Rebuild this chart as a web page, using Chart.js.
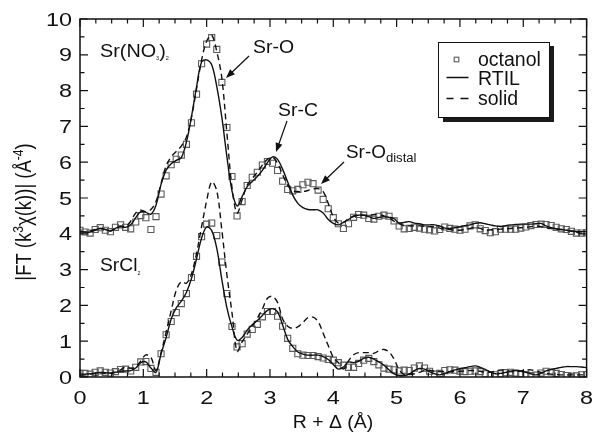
<!DOCTYPE html>
<html>
<head>
<meta charset="utf-8">
<script src="https://cdn.jsdelivr.net/npm/chart.js@4.4.7/dist/chart.umd.min.js"></script>
<style>
  html, body { margin: 0; padding: 0; background: #fff; }
  #wrap { width: 592px; height: 440px; }
</style>
</head>
<body>
<div id="wrap"><canvas id="chart" width="592" height="440"></canvas></div>
<script>
// R + delta grid (Å), shared by every series
const R = [
  0, 0.08, 0.16, 0.24, 0.32, 0.4, 0.48, 0.56, 0.64, 0.72,
  0.8, 0.88, 0.96, 1.04, 1.12, 1.2, 1.28, 1.36, 1.44, 1.52,
  1.6, 1.68, 1.76, 1.84, 1.92, 2.0, 2.08, 2.16, 2.24, 2.32,
  2.4, 2.48, 2.56, 2.64, 2.72, 2.8, 2.88, 2.96, 3.04, 3.12,
  3.2, 3.28, 3.36, 3.44, 3.52, 3.6, 3.68, 3.76, 3.84, 3.92,
  4.0, 4.08, 4.16, 4.24, 4.32, 4.4, 4.48, 4.56, 4.64, 4.72,
  4.8, 4.88, 4.96, 5.04, 5.12, 5.2, 5.28, 5.36, 5.44, 5.52,
  5.6, 5.68, 5.76, 5.84, 5.92, 6.0, 6.08, 6.16, 6.24, 6.32,
  6.4, 6.48, 6.56, 6.64, 6.72, 6.8, 6.88, 6.96, 7.04, 7.12,
  7.2, 7.28, 7.36, 7.44, 7.52, 7.6, 7.68, 7.76, 7.84, 7.92,
  8.0
];

// Sr(NO3)2 set (offset by +4)
const OCT_NO3 = [
  4.10, 4.05, 4.02, 4.12, 4.17, 4.10, 4.06, 4.18, 4.25, 4.18,
  4.14, 4.33, 4.51, 4.45, 4.12, 4.48, 5.11, 5.62, 5.93, 6.08,
  6.20, 6.50, 7.10, 7.90, 8.75, 9.30, 9.48, 9.15, 8.23, 6.97,
  5.60, 4.50, 4.90, 5.35, 5.58, 5.72, 5.92, 6.02, 5.97, 5.77,
  5.47, 5.24, 5.20, 5.24, 5.37, 5.44, 5.40, 5.22, 4.96, 4.70,
  4.45, 4.28, 4.15, 4.28, 4.46, 4.54, 4.52, 4.43, 4.41, 4.49,
  4.52, 4.49, 4.36, 4.22, 4.14, 4.15, 4.18, 4.16, 4.13, 4.11,
  4.08, 4.12, 4.19, 4.15, 4.13, 4.10, 4.13, 4.22, 4.25, 4.14,
  4.09, 4.03, 4.06, 4.13, 4.13, 4.13, 4.13, 4.16, 4.19, 4.23,
  4.26, 4.27, 4.26, 4.23, 4.18, 4.14, 4.12, 4.07, 4.02, 4.02,
  4.03
];
const RTIL_NO3 = [
  4.08, 4.05, 4.05, 4.10, 4.15, 4.12, 4.08, 4.15, 4.20, 4.18,
  4.25, 4.45, 4.62, 4.60, 4.55, 4.80, 5.38, 5.78, 5.96, 6.05,
  6.13, 6.56, 7.27, 8.10, 8.80, 8.86, 8.72, 8.11, 7.25, 6.15,
  5.20, 4.78, 5.04, 5.32, 5.46, 5.60, 5.77, 5.99, 6.15, 6.08,
  5.80, 5.45, 5.08, 4.85, 4.73, 4.68, 4.67, 4.67, 4.58, 4.40,
  4.29, 4.25, 4.32, 4.40, 4.50, 4.52, 4.52, 4.48, 4.43, 4.46,
  4.48, 4.46, 4.42, 4.30, 4.32, 4.34, 4.30, 4.28, 4.25, 4.25,
  4.25, 4.22, 4.16, 4.15, 4.17, 4.20, 4.23, 4.25, 4.29, 4.31,
  4.28, 4.25, 4.22, 4.20, 4.23, 4.25, 4.26, 4.27, 4.27, 4.27,
  4.28, 4.29, 4.22, 4.17, 4.14, 4.12, 4.10, 4.08, 4.06, 4.06,
  4.06
];
const SOLID_NO3 = [
  4.05, 4.05, 4.08, 4.12, 4.15, 4.12, 4.08, 4.15, 4.22, 4.20,
  4.35, 4.58, 4.66, 4.62, 4.68, 4.90, 5.40, 5.90, 6.15, 6.30,
  6.45, 6.70, 7.25, 8.05, 8.85, 9.38, 9.55, 9.09, 8.35, 6.81,
  5.30, 4.58, 4.95, 5.36, 5.55, 5.72, 5.92, 6.08, 6.14, 5.97,
  5.65, 5.35, 5.20, 5.18, 5.18, 5.21, 5.25, 5.26, 5.18, 4.85,
  4.48, 4.30, 4.32, 4.42, 4.48, 4.52, 4.52, 4.52, 4.54, 4.54,
  4.50, 4.45, 4.35, 4.28, 4.23, 4.22, 4.22, 4.22, 4.21, 4.20,
  4.19, 4.16, 4.13, 4.12, 4.10, 4.10, 4.12, 4.15, 4.18, 4.15,
  4.10, 4.11, 4.12, 4.13, 4.14, 4.15, 4.16, 4.17, 4.18, 4.20,
  4.22, 4.20, 4.17, 4.15, 4.13, 4.12, 4.10, 4.07, 4.04, 4.02,
  4.01
];

// SrCl2 set
const OCT_CL = [
  0.10, 0.10, 0.08, 0.13, 0.17, 0.13, 0.11, 0.15, 0.21, 0.22,
  0.17, 0.27, 0.42, 0.43, 0.24, 0.13, 0.65, 1.18, 1.55, 1.80,
  2.05, 2.33, 2.78, 3.37, 3.92, 4.27, 4.30, 3.95, 3.21, 2.33,
  1.41, 0.84, 0.93, 1.20, 1.33, 1.47, 1.68, 1.83, 1.83, 1.70,
  1.42, 1.08, 0.80, 0.65, 0.61, 0.60, 0.60, 0.57, 0.53, 0.49,
  0.47, 0.40, 0.33, 0.27, 0.27, 0.38, 0.47, 0.52, 0.43, 0.34,
  0.25, 0.22, 0.20, 0.17, 0.19, 0.18, 0.25, 0.31, 0.25, 0.16,
  0.08, 0.10, 0.18, 0.20, 0.19, 0.16, 0.15, 0.16, 0.17, 0.15,
  0.09, 0.04, 0.06, 0.09, 0.12, 0.13, 0.11, 0.09, 0.07, 0.04,
  0.05, 0.11, 0.16, 0.14, 0.10, 0.07, 0.04, 0.02, 0.03, 0.06,
  0.07
];
const RTIL_CL = [
  0.08, 0.08, 0.09, 0.11, 0.13, 0.12, 0.11, 0.13, 0.16, 0.17,
  0.18, 0.25, 0.40, 0.42, 0.25, 0.13, 0.65, 1.10, 1.62, 1.93,
  2.12, 2.36, 2.75, 3.30, 3.88, 4.19, 4.09, 3.59, 2.72, 1.93,
  1.40, 1.03, 1.10, 1.31, 1.46, 1.58, 1.72, 1.86, 1.91, 1.82,
  1.45, 1.05, 0.85, 0.70, 0.64, 0.61, 0.61, 0.61, 0.57, 0.49,
  0.35, 0.22, 0.28, 0.42, 0.40, 0.44, 0.52, 0.55, 0.50, 0.42,
  0.33, 0.20, 0.09, 0.04, 0.04, 0.08, 0.18, 0.24, 0.22, 0.15,
  0.09, 0.06, 0.10, 0.15, 0.20, 0.23, 0.26, 0.29, 0.31, 0.27,
  0.21, 0.14, 0.09, 0.10, 0.13, 0.16, 0.18, 0.16, 0.13, 0.09,
  0.06, 0.10, 0.17, 0.21, 0.24, 0.27, 0.29, 0.29, 0.29, 0.28,
  0.26
];
const SOLID_CL = [
  0.05, 0.06, 0.08, 0.10, 0.12, 0.10, 0.10, 0.14, 0.20, 0.28,
  0.24, 0.28, 0.45, 0.62, 0.55, 0.18, 0.68, 1.25, 1.85, 2.42,
  2.66, 2.62, 2.88, 3.45, 4.20, 4.92, 5.45, 5.20, 4.10, 2.85,
  1.80, 0.72, 0.98, 1.20, 1.41, 1.64, 1.90, 2.20, 2.25, 2.08,
  1.62, 1.42, 1.36, 1.40, 1.52, 1.66, 1.67, 1.55, 1.22, 0.88,
  0.55, 0.40, 0.22, 0.45, 0.62, 0.68, 0.68, 0.68, 0.66, 0.73,
  0.77, 0.70, 0.50, 0.20, 0.07, 0.07, 0.09, 0.13, 0.18, 0.19,
  0.16, 0.15, 0.15, 0.15, 0.15, 0.16, 0.17, 0.18, 0.18, 0.16,
  0.13, 0.14, 0.17, 0.20, 0.18, 0.15, 0.15, 0.17, 0.19, 0.20,
  0.17, 0.13, 0.10, 0.08, 0.07, 0.06, 0.06, 0.06, 0.06, 0.06,
  0.06
];

const X_TICKS = [0, 1, 2, 3, 4, 5, 6, 7, 8];
const Y_TICKS = [0, 1, 2, 3, 4, 5, 6, 7, 8, 9, 10];

const FONT = '"Liberation Sans", Arial, Helvetica, sans-serif';
const INK = '#111';

function pts(ys) {
  return R.map((r, i) => ({ x: r, y: ys[i] }));
}

function lineSet(label, ys, dashed) {
  return {
    label,
    data: pts(ys),
    showLine: true,
    borderColor: INK,
    borderWidth: 1.4,
    borderDash: dashed ? [6, 4] : [],
    pointRadius: 0,
    tension: 0.35,
    fill: false,
  };
}

function squareSet(label, ys) {
  return {
    label,
    data: pts(ys),
    showLine: false,
    pointStyle: 'rect',
    pointRadius: 4.3,
    pointBorderWidth: 1.1,
    pointBorderColor: '#5a5a5a',
    pointBackgroundColor: 'rgba(255,255,255,0)',
    borderColor: '#5a5a5a',
    backgroundColor: 'rgba(255,255,255,0)',
  };
}

// draw text with a horizontal stretch factor
function txt(ctx, s, x, y, size, sx, align) {
  ctx.save();
  ctx.font = size + 'px ' + FONT;
  ctx.fillStyle = INK;
  ctx.textBaseline = 'alphabetic';
  ctx.textAlign = align || 'left';
  ctx.translate(x, y);
  ctx.scale(sx, 1);
  ctx.fillText(s, 0, 0);
  ctx.restore();
}

// run of pieces [text, size, dy]; returns end x
function rich(ctx, parts, x, y, sx) {
  let cx = x;
  for (const [s, size, dy] of parts) {
    ctx.save();
    ctx.font = size + 'px ' + FONT;
    ctx.fillStyle = INK;
    ctx.textBaseline = 'alphabetic';
    ctx.translate(cx, y + (dy || 0));
    ctx.scale(sx, 1);
    ctx.fillText(s, 0, 0);
    cx += ctx.measureText(s).width * sx;
    ctx.restore();
  }
  return cx;
}

function arrow(ctx, x1, y1, x2, y2) {
  const a = Math.atan2(y2 - y1, x2 - x1);
  const L = 9, W = 3.5;
  ctx.save();
  ctx.strokeStyle = INK;
  ctx.fillStyle = INK;
  ctx.lineWidth = 1.2;
  ctx.beginPath();
  ctx.moveTo(x1, y1);
  ctx.lineTo(x2 - Math.cos(a) * L * 0.8, y2 - Math.sin(a) * L * 0.8);
  ctx.stroke();
  ctx.beginPath();
  ctx.moveTo(x2, y2);
  ctx.lineTo(x2 - Math.cos(a) * L - Math.sin(a) * W, y2 - Math.sin(a) * L + Math.cos(a) * W);
  ctx.lineTo(x2 - Math.cos(a) * L + Math.sin(a) * W, y2 - Math.sin(a) * L - Math.cos(a) * W);
  ctx.closePath();
  ctx.fill();
  ctx.restore();
}

const decor = {
  id: 'decor',
  afterDraw(chart) {
    const { ctx, chartArea: ca, scales } = chart;
    const xs = scales.x, ys = scales.y;

    // frame
    ctx.save();
    ctx.strokeStyle = INK;
    ctx.lineWidth = 1.5;
    ctx.strokeRect(ca.left, ca.top, ca.right - ca.left, ca.bottom - ca.top);

    // inward ticks, major + minor
    ctx.lineWidth = 1.2;
    ctx.beginPath();
    for (let k = 0; k <= 32; k++) {
      const px = xs.getPixelForValue(k / 4);
      const len = k % 4 === 0 ? 8 : 4.5;
      ctx.moveTo(px, ca.bottom); ctx.lineTo(px, ca.bottom - len);
      ctx.moveTo(px, ca.top); ctx.lineTo(px, ca.top + len);
    }
    for (let k = 0; k <= 20; k++) {
      const py = ys.getPixelForValue(k / 2);
      const len = k % 2 === 0 ? 8 : 4.5;
      ctx.moveTo(ca.left, py); ctx.lineTo(ca.left + len, py);
      ctx.moveTo(ca.right, py); ctx.lineTo(ca.right - len, py);
    }
    ctx.stroke();
    ctx.restore();

    // tick labels
    X_TICKS.forEach(v => txt(ctx, String(v), xs.getPixelForValue(v), ca.bottom + 27, 18, 1.3, 'center'));
    Y_TICKS.forEach(v => txt(ctx, String(v), 72, ys.getPixelForValue(v) + 6.5, 18, 1.3, 'right'));

    // axis titles
    txt(ctx, 'R + \u0394 (\u00C5)', 333, 428, 18, 1.08, 'center');

    ctx.save();
    ctx.translate(31, 212);
    ctx.rotate(-Math.PI / 2);
    ctx.scale(1, 1.2);
    const yParts = [
      ['|FT (k', 18.5, 0], ['3', 12, -7], ['\u03C7(k))| (\u00C5', 18.5, 0], ['-4', 12, -7], [')', 18.5, 0]
    ];
    let w = 0;
    for (const [s, size] of yParts) { ctx.font = size + 'px ' + FONT; w += ctx.measureText(s).width; }
    rich(ctx, yParts, -w / 2, 0, 1);
    ctx.restore();

    // sample labels
    rich(ctx, [['Sr(NO', 18, 0], ['3', 5, 3], [')', 18, 0], ['2', 5, 3]], 100, 57, 1.1);
    rich(ctx, [['SrCl', 18, 0], ['2', 5, 4]], 100, 271, 1.07);

    // peak annotations
    txt(ctx, 'Sr-O', 253, 53, 18, 1.08);
    arrow(ctx, 249, 56, 226, 78);
    txt(ctx, 'Sr-C', 278, 116, 18, 1.08);
    arrow(ctx, 287, 121, 276, 152);
    rich(ctx, [['Sr-O', 18, 0], ['distal', 12.5, 4]], 346, 158, 1.05);
    arrow(ctx, 344, 162, 321, 184);

    // legend box with drop shadow
    ctx.save();
    ctx.fillStyle = '#1a1a1a';
    ctx.fillRect(443, 46, 111, 76);
    ctx.fillStyle = '#fff';
    ctx.fillRect(438, 42, 111, 75);
    ctx.strokeStyle = INK;
    ctx.lineWidth = 1;
    ctx.strokeRect(438.5, 42.5, 111, 75);
    ctx.strokeStyle = '#5a5a5a';
    ctx.lineWidth = 1.1;
    ctx.strokeRect(454.2, 57.2, 4.6, 4.6);
    ctx.strokeStyle = INK;
    ctx.lineWidth = 1.4;
    ctx.beginPath();
    ctx.moveTo(446.5, 77.5); ctx.lineTo(468.5, 77.5);
    ctx.moveTo(446.5, 98.5); ctx.lineTo(453.5, 98.5);
    ctx.moveTo(460.5, 98.5); ctx.lineTo(468.5, 98.5);
    ctx.stroke();
    ctx.restore();
    txt(ctx, 'octanol', 478, 66, 19.5, 1.0);
    txt(ctx, 'RTIL', 478, 85, 19.5, 1.0);
    txt(ctx, 'solid', 478, 105, 19.5, 1.0);
  }
};

new Chart(document.getElementById('chart'), {
  type: 'scatter',
  data: {
    datasets: [
      lineSet('RTIL', RTIL_NO3, false),
      lineSet('solid', SOLID_NO3, true),
      squareSet('octanol', OCT_NO3),
      lineSet('RTIL SrCl2', RTIL_CL, false),
      lineSet('solid SrCl2', SOLID_CL, true),
      squareSet('octanol SrCl2', OCT_CL),
    ],
  },
  options: {
    responsive: false,
    animation: false,
    devicePixelRatio: 1,
    layout: { padding: { top: 19, right: 5, left: 0, bottom: 0 } },
    plugins: {
      legend: { display: false },
      tooltip: { enabled: false },
    },
    scales: {
      x: {
        type: 'linear',
        min: 0,
        max: 8,
        grid: { display: false, drawTicks: false },
        border: { display: false },
        ticks: { display: false },
        afterFit: (s) => { s.height = 63; },
      },
      y: {
        min: 0,
        max: 10,
        grid: { display: false, drawTicks: false },
        border: { display: false },
        ticks: { display: false },
        afterFit: (s) => { s.width = 80; },
      },
    },
  },
  plugins: [decor],
});
</script>
</body>
</html>
